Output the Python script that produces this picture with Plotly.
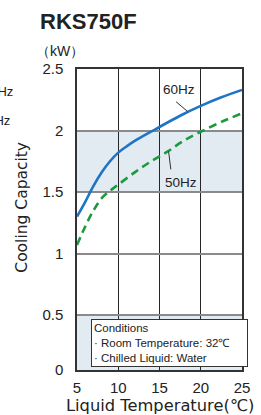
import plotly.graph_objects as go

# ---- data ----
temp_60 = [5, 6, 7, 8, 9, 10, 11, 12, 14.5, 17.5, 20, 22.5, 25]
cap_60 = [1.30, 1.42, 1.55, 1.66, 1.75, 1.82, 1.87, 1.915, 2.01, 2.12, 2.20, 2.27, 2.33]

temp_50 = [5, 6, 7, 8, 9, 10, 12, 14, 16, 18, 20, 22.5, 25]
cap_50 = [1.07, 1.22, 1.35, 1.45, 1.51, 1.56, 1.66, 1.75, 1.83, 1.92, 1.99, 2.07, 2.14]

x_ticks = [5, 10, 15, 20, 25]
x_tick_labels = ["5", "10", "15", "20", "25"]
y_ticks = [0.053, 0.5, 1, 1.5, 2, 2.5]
y_tick_labels = ["0", "0.5", "1", "1.5", "2", "2.5"]
shaded_bands = [(0.053, 0.5), (1.5, 2.0)]

title_text = "RKS750F"
unit_text = "（kW）"
y_title = "Cooling Capacity"
x_title = "Liquid Temperature(℃)"
conditions = ["Conditions", "· Room Temperature: 32℃", "· Chilled Liquid: Water"]

# ---- layout geometry (pixels) ----
W, H = 261, 415
L, R, T, B = 77, 250, 69, 370
XMIN, XMAX = 5, 25
YMIN, YMAX = 0.053, 2.5


def px(xp):
    return (xp - L) / (R - L)


def py(yp):
    return (B - yp) / (B - T)


BLUE = "#1f74c3"
GREEN = "#1b9a3e"
FONT = "Liberation Sans, Arial, sans-serif"
WIDE = "DejaVu Sans, sans-serif"

fig = go.Figure()
fig.add_trace(go.Scatter(x=temp_60, y=cap_60, mode="lines",
                         line=dict(color=BLUE, width=2.6, shape="spline"),
                         hoverinfo="skip", showlegend=False))
fig.add_trace(go.Scatter(x=temp_50, y=cap_50, mode="lines",
                         line=dict(color=GREEN, width=2.6, shape="spline", dash="8px,5px"),
                         hoverinfo="skip", showlegend=False))

shapes = []
for lo, hi in shaded_bands:
    shapes.append(dict(type="rect", xref="x", yref="y", x0=XMIN, x1=XMAX, y0=lo, y1=hi,
                       fillcolor="#e3ebf2", line=dict(width=0), layer="below"))

ann = []
ann.append(dict(text="<b>" + title_text + "</b>", xref="paper", yref="paper",
                x=px(36), y=py(21.5), xanchor="left", yanchor="middle",
                showarrow=False, font=dict(size=22, color="#222", family=FONT)))
ann.append(dict(text=unit_text, xref="paper", yref="paper",
                x=px(59), y=py(51), xanchor="center", yanchor="middle",
                showarrow=False, font=dict(size=14, color="#222", family=FONT)))
ann.append(dict(text=y_title, xref="paper", yref="paper", textangle=-90,
                x=px(19), y=py(207), xanchor="center", yanchor="middle",
                showarrow=False, font=dict(size=15.5, color="#222", family=WIDE)))
ann.append(dict(text=x_title, xref="paper", yref="paper",
                x=px(164), y=py(406), xanchor="center", yanchor="middle",
                showarrow=False, font=dict(size=16.3, color="#222", family=WIDE)))

# curve labels and leader lines
ann.append(dict(text="60Hz", xref="paper", yref="paper", x=px(184), y=py(89),
                xanchor="center", yanchor="middle", showarrow=False,
                font=dict(size=13.5, color="#222", family=FONT)))
ann.append(dict(text=" ", xref="x", yref="y", x=18.4, y=2.155, ax=-13, ay=-11,
                showarrow=True, arrowhead=0, arrowwidth=1, arrowcolor="#333", standoff=0,
                font=dict(size=1)))
ann.append(dict(text="50Hz", xref="paper", yref="paper", x=px(186), y=py(182),
                xanchor="center", yanchor="middle", showarrow=False,
                font=dict(size=13.5, color="#222", family=FONT)))
ann.append(dict(text=" ", xref="x", yref="y", x=16.1, y=1.83, ax=2.5, ay=20,
                showarrow=True, arrowhead=0, arrowwidth=1, arrowcolor="#333", standoff=0,
                font=dict(size=1)))

# fragments of the neighbouring chart's labels at the left edge
ann.append(dict(text="60Hz", xref="paper", yref="paper", x=px(12.5), y=py(91.5),
                xanchor="right", yanchor="middle", showarrow=False,
                font=dict(size=13, color="#222", family=FONT)))
ann.append(dict(text="50Hz", xref="paper", yref="paper", x=px(9), y=py(120),
                xanchor="right", yanchor="middle", showarrow=False,
                font=dict(size=13, color="#222", family=FONT)))

# conditions box
ann.append(dict(text="<br>".join(conditions), xref="paper", yref="paper",
                x=px(92), y=py(319), xanchor="left", yanchor="top", align="left",
                showarrow=False, bgcolor="white", bordercolor="#333", borderwidth=1,
                borderpad=2, width=151,
                font=dict(size=11.5, color="#222", family=FONT)))

fig.update_layout(
    width=W, height=H,
    margin=dict(l=L, r=W - R, t=T, b=H - B, pad=0),
    paper_bgcolor="white", plot_bgcolor="white",
    shapes=shapes, annotations=ann,
    font=dict(family=FONT, color="#222"),
    xaxis=dict(range=[XMIN, XMAX], tickvals=x_ticks, ticktext=x_tick_labels,
               showgrid=True, gridcolor="#262626", gridwidth=1.4,
               showline=True, mirror=True, linecolor="#333", linewidth=1.5,
               ticks="outside", ticklen=3, tickcolor="rgba(0,0,0,0)",
               tickfont=dict(size=15, color="#222"), zeroline=False, fixedrange=True),
    yaxis=dict(range=[YMIN, YMAX], tickvals=y_ticks, ticktext=y_tick_labels,
               showgrid=True, gridcolor="#8a8a8a", gridwidth=1.5,
               showline=True, mirror=True, linecolor="#333", linewidth=1.5,
               ticks="outside", ticklen=9, tickcolor="rgba(0,0,0,0)",
               tickfont=dict(size=15, color="#222"), zeroline=False, fixedrange=True),
)

fig.write_html("out.html", config={"displayModeBar": False},
               post_script="document.body.style.margin='0';document.body.style.overflow='hidden';")
